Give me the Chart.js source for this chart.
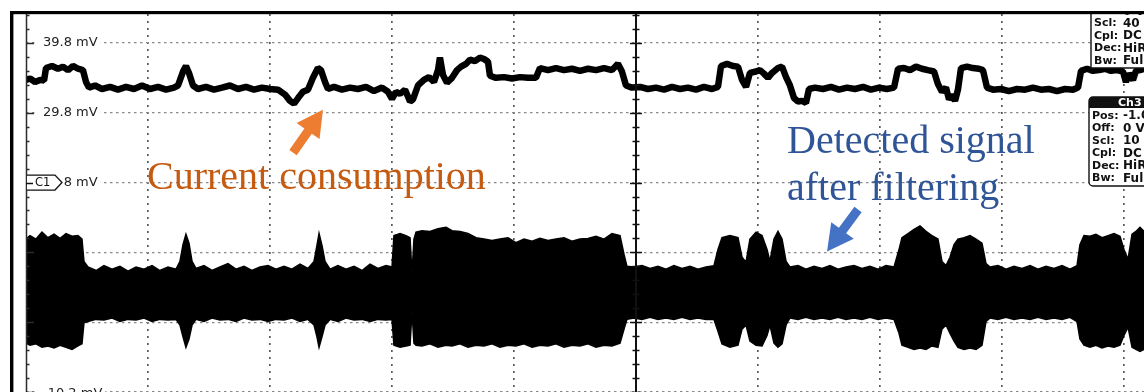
<!DOCTYPE html>
<html>
<head>
<meta charset="utf-8">
<script src="https://cdn.jsdelivr.net/npm/chart.js@4.4.1/dist/chart.umd.min.js"></script>
<style>
  html, body { margin: 0; padding: 0; background: #fff; overflow: hidden; }
  canvas { display: block; }
</style>
</head>
<body>
<canvas id="scope" width="1144" height="392"></canvas>
<script>
// Horizontal position in graticule divisions, vertical in mV.
const gridDivs = [1, 2, 3, 4, 5, 6, 7, 8, 9];
const gridMv = [-10.2, -0.2, 9.8, 19.8, 29.8, 39.8];
const labelMv = [39.8, 29.8, 19.8, -10.2];
const labelText = ["39.8 mV", "29.8 mV", "19.8 mV", "-10.2 mV"];

// Ch1: supply current trace
const currentT = [
  0, 0.033, 0.074, 0.115, 0.148, 0.164, 0.213, 0.262, 0.303, 0.344, 0.385, 0.426, 0.467,
  0.492, 0.516, 0.566, 0.623, 0.689, 0.754, 0.820, 0.885, 0.951, 1.016, 1.082, 1.148, 1.213, 1.246,
  1.287, 1.311, 1.336, 1.369, 1.410, 1.475, 1.541, 1.607, 1.672, 1.738, 1.803, 1.869, 1.934, 2.000, 2.066,
  2.123, 2.164, 2.197, 2.230, 2.270, 2.311, 2.352, 2.393, 2.418, 2.451, 2.475,
  2.525, 2.590, 2.656, 2.721, 2.787, 2.852, 2.918, 2.967, 3.000, 3.033, 3.066, 3.107, 3.148, 3.172,
  3.213, 3.262, 3.303, 3.344, 3.377, 3.393, 3.418, 3.451, 3.492, 3.533, 3.566, 3.607, 3.639, 3.680, 3.721, 3.754, 3.787,
  3.803, 3.852, 3.918, 3.984, 4.049, 4.115, 4.180,
  4.213, 4.279, 4.344, 4.410, 4.475, 4.541, 4.607, 4.672, 4.738, 4.803, 4.852, 4.885,
  4.918, 4.967, 5.033, 5.098, 5.164, 5.230, 5.295, 5.361, 5.426, 5.492, 5.557, 5.623, 5.672,
  5.697, 5.746, 5.795, 5.836, 5.869, 5.902, 5.934, 5.984, 6.016, 6.049, 6.082, 6.115, 6.164, 6.197, 6.230, 6.262, 6.295, 6.328, 6.361, 6.393,
  6.418, 6.467, 6.533, 6.598, 6.664, 6.730, 6.795, 6.861, 6.926, 6.992, 7.057, 7.115,
  7.148, 7.197, 7.246, 7.295, 7.344, 7.393, 7.443, 7.475, 7.508, 7.541, 7.566, 7.590, 7.615, 7.639,
  7.664, 7.713, 7.762, 7.811, 7.844,
  7.877, 7.926, 7.992, 8.057, 8.123, 8.189, 8.254, 8.320, 8.385, 8.451, 8.516, 8.582, 8.623,
  8.648, 8.697, 8.746, 8.795, 8.844, 8.893, 8.943, 8.992, 9.016, 9.041, 9.074, 9.098, 9.131, 9.164
];
const currentMv = [
  34.5, 34.7, 34.2, 34.5, 34.4, 36.2, 36.5, 36.1, 36.4, 35.9, 36.5, 36.1, 35.9,
  34.2, 33.4, 33.7, 33.2, 33.5, 33.1, 33.5, 33.2, 33.7, 33.2, 33.5, 33.1, 33.4, 33.7,
  35.7, 36.5, 35.5, 33.7, 33.2, 33.5, 33.1, 33.4, 33.7, 33.2, 33.5, 33.1, 33.4, 33.2, 33.1,
  32.4, 31.5, 31.1, 31.9, 32.8, 33.1, 34.8, 36.2, 35.9, 34.2, 33.2,
  33.5, 33.1, 33.4, 33.2, 33.5, 32.9, 33.4, 32.8, 31.8, 32.8, 32.5, 33.1, 31.4, 31.7,
  33.7, 34.5, 34.9, 34.2, 35.9, 37.7, 35.2, 34.1, 34.8, 35.9, 36.4, 36.8, 37.4, 37.2, 37.7, 37.5, 37.1,
  35.1, 34.8, 34.9, 34.7, 34.9, 34.8, 34.8,
  36.2, 35.9, 36.2, 35.9, 36.1, 35.8, 36.1, 35.9, 36.2, 35.9, 36.8, 35.7,
  33.7, 33.4, 33.5, 33.2, 33.4, 33.1, 33.5, 33.2, 33.4, 33.1, 33.5, 33.2, 33.5,
  36.5, 36.8, 36.5, 36.4, 34.5, 33.5, 35.5, 35.7, 35.9, 35.4, 34.8, 35.5, 36.2, 36.4, 34.9, 33.7, 31.9, 31.4, 31.5, 31.2,
  33.2, 33.4, 33.2, 33.5, 33.1, 33.4, 33.2, 33.5, 33.1, 33.4, 33.2, 33.4,
  36.1, 36.2, 35.9, 36.4, 36.1, 35.9, 35.7, 33.9, 32.8, 33.4, 31.7, 32.4, 31.5, 33.1,
  36.2, 36.4, 36.2, 36.1, 35.9,
  33.4, 33.1, 33.2, 32.9, 33.2, 33.1, 33.4, 33.1, 33.2, 32.9, 33.2, 33.1, 33.4,
  35.8, 36.1, 35.8, 35.9, 36.1, 35.8, 35.9, 35.7, 34.2, 35.4, 34.5, 35.8, 35.9, 36.1
];

// Ch3: filtered detector output, drawn as its upper/lower envelope
const bandT = [
  0, 0.033, 0.082, 0.131, 0.180, 0.230, 0.279, 0.328, 0.377, 0.426, 0.459,
  0.475, 0.508, 0.574, 0.639, 0.705, 0.770, 0.836, 0.902, 0.967, 1.033, 1.098, 1.164, 1.230,
  1.262, 1.287, 1.311, 1.336, 1.361,
  1.393, 1.459, 1.525, 1.590, 1.656, 1.721, 1.787, 1.852, 1.918, 1.984, 2.049, 2.115, 2.180, 2.246, 2.311,
  2.361, 2.385, 2.402, 2.426, 2.451,
  2.492, 2.557, 2.623, 2.689, 2.754, 2.820, 2.885, 2.951, 3.000,
  3.016, 3.066, 3.115, 3.148, 3.164, 3.180,
  3.197, 3.246, 3.311, 3.377, 3.443, 3.492, 3.557, 3.623, 3.689, 3.754, 3.820, 3.885, 3.951, 4.016,
  4.082, 4.148, 4.213, 4.279, 4.344, 4.410, 4.475, 4.541, 4.607, 4.672, 4.738, 4.803, 4.869,
  4.902, 4.926, 4.984, 5.049, 5.115, 5.180, 5.246, 5.311, 5.377, 5.443, 5.508, 5.574, 5.639,
  5.672, 5.705, 5.770, 5.836, 5.869, 5.902, 5.934, 5.984, 6.033, 6.074, 6.098, 6.131, 6.164, 6.197, 6.230,
  6.262, 6.328, 6.393, 6.459, 6.525, 6.590, 6.656, 6.721, 6.787, 6.852, 6.918, 6.984, 7.049, 7.115,
  7.156, 7.180, 7.230, 7.279, 7.328, 7.377, 7.426, 7.475, 7.508, 7.541, 7.574, 7.607, 7.639, 7.689, 7.738, 7.787, 7.836, 7.869,
  7.902, 7.967, 8.033, 8.098, 8.164, 8.230, 8.295, 8.361, 8.426, 8.492, 8.557, 8.615,
  8.639, 8.672, 8.721, 8.770, 8.820, 8.869, 8.918, 8.967, 9.000, 9.033, 9.066, 9.098, 9.131, 9.164
];
const bandHiMv = [
  11.7, 12.2, 11.7, 12.7, 11.9, 12.4, 11.8, 12.5, 12.1, 12.2, 11.7,
  8.5, 7.7, 7.2, 7.9, 7.4, 7.8, 7.1, 7.7, 7.4, 7.9, 7.2, 7.7, 7.4,
  8.5, 10.9, 12.4, 11.1, 8.5,
  7.5, 7.9, 7.2, 7.7, 8.2, 7.4, 7.8, 7.2, 7.7, 7.9, 7.4, 7.8, 7.4, 8.1, 7.5,
  8.5, 10.8, 12.5, 10.8, 8.5,
  7.4, 7.9, 7.4, 7.8, 7.2, 8.1, 7.5, 7.9, 7.7,
  12.2, 12.5, 12.2, 11.9, 6.7, 11.7,
  12.7, 12.9, 12.8, 13.2, 13.4, 12.9, 12.8, 12.5, 11.9, 11.7, 11.5, 11.7, 11.9, 11.2,
  11.7, 11.4, 11.8, 11.5, 11.7, 11.9, 11.4, 11.7, 11.8, 12.1, 11.7, 12.5, 12.2,
  9.5, 7.8, 7.7, 7.9, 7.5, 7.8, 7.4, 7.9, 7.5, 7.8, 7.4, 7.7, 7.9,
  10.2, 11.9, 12.2, 11.9, 9.1, 8.4, 11.7, 12.7, 12.2, 10.2, 8.5, 11.7, 12.8, 11.7, 8.5,
  7.7, 7.9, 7.4, 7.8, 7.5, 7.9, 7.4, 7.7, 7.9, 7.5, 7.8, 7.4, 7.9, 7.7,
  10.2, 11.9, 12.5, 13.1, 13.6, 12.8, 12.2, 11.7, 8.5, 7.9, 9.1, 10.9, 11.7, 11.9, 12.2, 11.7, 11.1, 8.2,
  7.7, 7.9, 7.4, 7.8, 7.5, 7.9, 7.4, 7.8, 7.5, 7.9, 7.4, 7.9,
  10.9, 12.2, 12.1, 12.4, 11.9, 12.2, 12.5, 12.1, 10.2, 8.8, 12.4, 12.8, 13.4, 12.8
];
const bandLoMv = [
  -3.2, -3.5, -3.3, -3.8, -3.6, -3.9, -3.5, -3.8, -4.1, -3.6, -3.3,
  -0.3, -0.1, 0.2, 0.1, 0.4, -0.1, 0.2, 0.1, 0.4, -0.1, 0.2, 0.1, 0.2,
  -0.6, -2.3, -3.8, -2.6, -0.6,
  0.2, -0.1, 0.4, 0.1, 0.2, -0.1, 0.4, 0.1, 0.2, -0.1, 0.2, 0.1, 0.4, -0.1, 0.2,
  -0.6, -2.3, -3.8, -2.3, -0.6,
  0.2, -0.1, 0.4, 0.1, 0.2, -0.1, 0.2, 0.1, 0.2,
  -3.5, -3.8, -3.6, -3.5, 1.4, -3.2,
  -3.5, -3.6, -3.3, -3.8, -3.5, -3.6, -3.3, -3.8, -3.5, -3.6, -3.3, -3.8, -3.5, -3.6,
  -3.3, -3.8, -3.5, -3.6, -3.3, -3.8, -3.5, -3.6, -3.3, -3.8, -3.5, -3.6, -3.2,
  -1.2, 0.2, 0.4, 0.2, 0.5, 0.2, 0.4, 0.2, 0.5, 0.2, 0.4, 0.2, 0.2,
  -1.5, -3.3, -3.8, -3.5, -1.2, -0.6, -2.9, -3.5, -3.6, -2.1, -0.6, -3.2, -3.8, -3.3, -0.6,
  0.4, 0.2, 0.5, 0.2, 0.4, 0.2, 0.5, 0.2, 0.4, 0.2, 0.5, 0.2, 0.4, 0.2,
  -1.8, -3.5, -3.8, -4.1, -3.9, -4.1, -3.6, -3.8, -1.2, -0.6, -1.8, -2.9, -3.8, -4.1, -3.9, -4.1, -3.5, -0.1,
  0.4, 0.2, 0.5, 0.2, 0.4, 0.2, 0.5, 0.2, 0.4, 0.2, 0.5, -0.1,
  -2.6, -3.5, -3.8, -3.5, -3.9, -3.6, -3.8, -3.5, -2.1, -0.9, -3.8, -4.1, -4.4, -4.1
];

// Channel readouts (field names and settings)
const ch1Fields = ["Off:", "Scl:", "Cpl:", "Dec:", "Bw:"];
const ch1Values = ["0 V", "40 mV", "DC", "HiRes", "Full"];
const ch3Fields = ["Pos:", "Off:", "Scl:", "Cpl:", "Dec:", "Bw:"];
const ch3Values = ["-1.00 div", "0 V", "10 mV", "DC", "HiRes", "Full"];

const toPoints = (xs, ys) => xs.map((t, i) => ({ x: t, y: ys[i] }));

function blockArrow(ctx, x0, y0, x1, y1, color) {
  const dx = x1 - x0, dy = y1 - y0, len = Math.hypot(dx, dy);
  const ux = dx / len, uy = dy / len, nx = -uy, ny = ux;
  const headLen = 26, headHalf = 14, shaftHalf = 4.5;
  const bx = x1 - ux * headLen, by = y1 - uy * headLen;
  ctx.beginPath();
  ctx.moveTo(x0 + nx * shaftHalf, y0 + ny * shaftHalf);
  ctx.lineTo(bx + nx * shaftHalf, by + ny * shaftHalf);
  ctx.lineTo(bx + nx * headHalf, by + ny * headHalf);
  ctx.lineTo(x1, y1);
  ctx.lineTo(bx - nx * headHalf, by - ny * headHalf);
  ctx.lineTo(bx - nx * shaftHalf, by - ny * shaftHalf);
  ctx.lineTo(x0 - nx * shaftHalf, y0 - ny * shaftHalf);
  ctx.closePath();
  ctx.fillStyle = color;
  ctx.fill();
}

function seg(ctx, xa, ya, xb, yb) {
  ctx.beginPath(); ctx.moveTo(xa, ya); ctx.lineTo(xb, yb); ctx.stroke();
}

// Channel readout panels at the right edge of the screen
function readout(ctx, left, top, bottom, fields, values, rowY, header) {
  ctx.save();
  ctx.beginPath();
  ctx.rect(left - 2, 14, 200, 400);
  ctx.clip();
  ctx.beginPath();
  if (header) {
    ctx.roundRect(left, top, 80, bottom - top, [4, 0, 0, 4]);
  } else {
    ctx.rect(left, top, 80, bottom - top);
  }
  ctx.fillStyle = '#fff';
  ctx.fill();
  ctx.lineWidth = 1.4;
  ctx.strokeStyle = '#111';
  ctx.stroke();
  ctx.textBaseline = 'middle';
  if (header) {
    ctx.beginPath();
    ctx.roundRect(left, top, 80, 11, [4, 0, 0, 0]);
    ctx.fillStyle = '#111';
    ctx.fill();
    ctx.fillStyle = '#fff';
    ctx.font = 'bold 11px "DejaVu Sans"';
    ctx.fillText(header, left + 29, top + 6);
  }
  ctx.fillStyle = '#111';
  fields.forEach((f, i) => {
    ctx.font = 'bold 11px "DejaVu Sans"';
    ctx.fillText(f, left + 3, rowY[i]);
    ctx.font = 'bold 12px "DejaVu Sans"';
    ctx.fillText(values[i], 1123, rowY[i]);
  });
  ctx.restore();
}

const scopeOverlay = {
  id: 'scopeOverlay',
  afterDatasetsDraw(chart) {
    const { ctx, chartArea: a, scales: { x, y } } = chart;
    ctx.save();
    const x0 = x.getPixelForValue(0);
    const xc = Math.round(x.getPixelForValue(5));

    // left graticule edge and centre line
    ctx.strokeStyle = '#2b2b2b';
    ctx.lineWidth = 1.5;
    seg(ctx, x0 + 0.5, a.top, x0 + 0.5, a.bottom);
    ctx.strokeStyle = '#111';
    ctx.lineWidth = 2;
    seg(ctx, xc, a.top, xc, a.bottom);

    // minor ticks every 2 mV, longer marks on the division lines
    ctx.lineWidth = 1.5;
    for (let v = gridMv[0]; v < y.max; v += 2) {
      const py = Math.round(y.getPixelForValue(v)) + 0.5;
      const major = gridMv.some(g => Math.abs(g - v) < 0.01);
      ctx.strokeStyle = '#2b2b2b';
      seg(ctx, x0, py, x0 + (major ? 8 : 3.5), py);
      ctx.strokeStyle = '#111';
      seg(ctx, xc - (major ? 6 : 3.5), py, xc + (major ? 6 : 3.5), py);
    }

    // level labels
    ctx.font = '13px "DejaVu Sans"';
    ctx.textBaseline = 'middle';
    labelMv.forEach((v, i) => {
      const py = y.getPixelForValue(v) + (v === gridMv[0] ? 2 : 0);
      const w = ctx.measureText(labelText[i]).width;
      ctx.fillStyle = '#fff';
      ctx.fillRect(x0 + 12, py - 7, w + 8, 14);
      ctx.fillStyle = '#222';
      ctx.fillText(labelText[i], x0 + 17, py);
    });

    // channel 1 ground marker
    const pc = y.getPixelForValue(19.8);
    ctx.fillStyle = '#fff';
    ctx.fillRect(x0 + 2, pc - 7.5, 36, 15);
    ctx.beginPath();
    ctx.moveTo(x0 + 1, pc - 7.5);
    ctx.lineTo(x0 + 29, pc - 7.5);
    ctx.lineTo(x0 + 36, pc);
    ctx.lineTo(x0 + 29, pc + 7.5);
    ctx.lineTo(x0 + 1, pc + 7.5);
    ctx.fillStyle = '#fff';
    ctx.fill();
    ctx.strokeStyle = '#111';
    ctx.lineWidth = 1.3;
    ctx.stroke();
    ctx.lineWidth = 1.5;
    seg(ctx, x0, Math.round(pc) + 0.5, x0 + 7, Math.round(pc) + 0.5);
    ctx.fillStyle = '#111';
    ctx.font = '11.5px "DejaVu Sans"';
    ctx.fillText('C1', x0 + 9, pc + 0.5);

    // callouts
    ctx.font = '40px "Liberation Serif"';
    ctx.textBaseline = 'alphabetic';
    ctx.fillStyle = '#C55A11';
    ctx.fillText('Current consumption', x.getPixelForValue(0.992), y.getPixelForValue(18.94));
    blockArrow(ctx, x.getPixelForValue(2.189), y.getPixelForValue(24.08),
               x.getPixelForValue(2.434), y.getPixelForValue(30.23), '#ED7D31');
    ctx.fillStyle = '#2F5597';
    ctx.fillText('Detected signal', x.getPixelForValue(6.238), y.getPixelForValue(24.08));
    ctx.fillText('after filtering', x.getPixelForValue(6.238), y.getPixelForValue(17.37));
    blockArrow(ctx, x.getPixelForValue(6.820), y.getPixelForValue(15.94),
               x.getPixelForValue(6.566), y.getPixelForValue(9.94), '#4472C4');

    // readout panels
    readout(ctx, 1091, 2, 68, ch1Fields, ch1Values, [11.5, 23.5, 36, 48.5, 61]);
    readout(ctx, 1089, 97, 186, ch3Fields, ch3Values,
      [116, 128.5, 141, 153.5, 166, 178.5], 'Ch3');

    // screen frame
    ctx.fillStyle = '#000';
    ctx.fillRect(10, 11, a.right - 10, 3.2);
    ctx.fillRect(10, 11, 3.4, a.bottom - 11);
    ctx.restore();
  }
};

new Chart(document.getElementById('scope'), {
  type: 'line',
  data: {
    datasets: [
      {
        label: 'Current consumption',
        data: toPoints(currentT, currentMv),
        borderColor: '#000',
        borderWidth: 6.5,
        borderJoinStyle: 'bevel',
        pointRadius: 0,
        tension: 0,
        fill: false
      },
      {
        label: 'Detected signal (upper)',
        data: toPoints(bandT, bandHiMv),
        borderColor: '#000',
        borderWidth: 1.5,
        pointRadius: 0,
        tension: 0,
        fill: false
      },
      {
        label: 'Detected signal (lower)',
        data: toPoints(bandT, bandLoMv),
        borderColor: '#000',
        backgroundColor: '#000',
        borderWidth: 1.5,
        pointRadius: 0,
        tension: 0,
        fill: '-1'
      }
    ]
  },
  options: {
    responsive: false,
    animation: false,
    devicePixelRatio: 1,
    events: [],
    layout: { padding: { left: 26, top: 14, right: 0, bottom: 0 } },
    plugins: { legend: { display: false }, tooltip: { enabled: false } },
    scales: {
      x: {
        type: 'linear',
        min: 0,
        max: 9.164,
        afterBuildTicks: s => { s.ticks = gridDivs.map(v => ({ value: v })); },
        ticks: { display: false },
        grid: { color: '#5a5a5a', lineWidth: 1.7, drawTicks: false },
        border: { display: false, dash: [2, 5] }
      },
      y: {
        type: 'linear',
        min: -10.2,
        max: 43.94,
        afterBuildTicks: s => { s.ticks = gridMv.map(v => ({ value: v })); },
        ticks: { display: false },
        grid: { color: '#8a8a8a', lineWidth: 1.3, drawTicks: false },
        border: { display: false, dash: [2.5, 3.5] }
      }
    }
  },
  plugins: [scopeOverlay]
});
</script>
</body>
</html>
